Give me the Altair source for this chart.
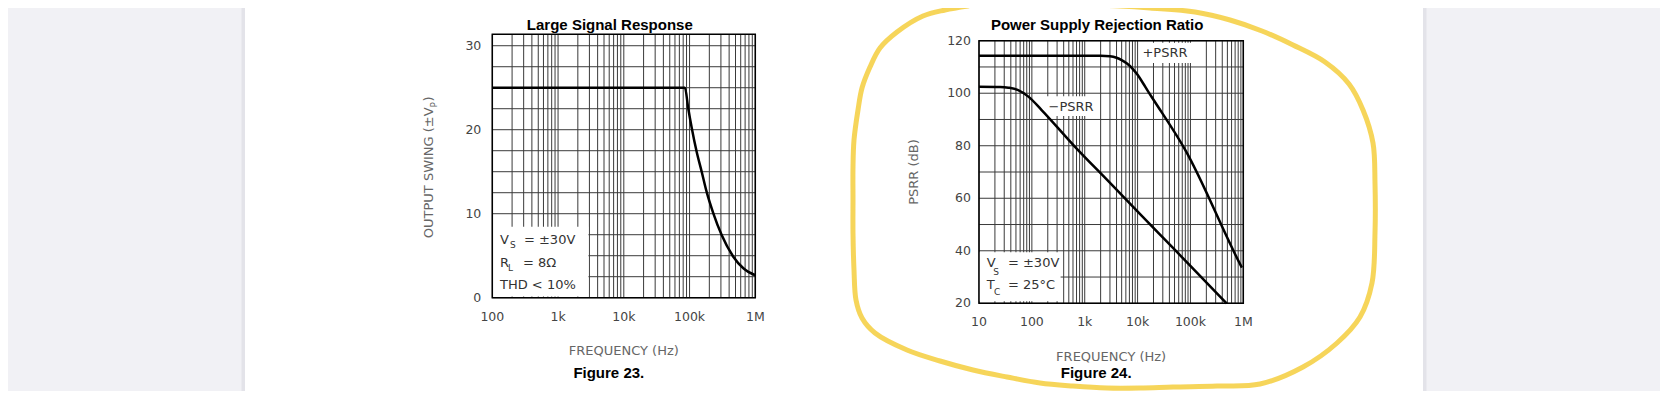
import math
import altair as alt
import pandas as pd

# ---------------- data ----------------
# Figure 23 - Large Signal Response
lsr_freq = [100, 85000, 95700, 108000, 128000, 153000, 182000, 230000, 308000, 463000, 658000, 1000000]
lsr_swing = [25.0, 25.0, 22.5, 20.2, 17.4, 15.0, 12.6, 10.05, 7.46, 4.88, 3.5, 2.67]

# Figure 24 - Power Supply Rejection Ratio
ppsrr_freq = [10, 2000, 3000, 4000, 5000, 6300, 8000, 10000, 12600, 15900, 20000, 78700, 865000, 940000]
ppsrr_db = [114.3, 114.3, 114.1, 113.5, 112.6, 111.3, 109.4, 107.0, 103.9, 100.6, 97.5, 78.6, 35.0, 33.6]
npsrr_freq = [10, 25, 36, 55, 86, 153, 655, 2800, 11900, 51000, 217000, 484000]
npsrr_db = [102.5, 102.4, 102.1, 101.2, 98.7, 93.6, 79.6, 66.5, 53.4, 40.3, 27.2, 20.0]

l_xticks = [100, 1000, 10000, 100000, 1000000]
l_xlabels = ["100", "1k", "10k", "100k", "1M"]
l_yticks = [0, 10, 20, 30]
l_ylabels = ["0", "10", "20", "30"]
r_xticks = [10, 100, 1000, 10000, 100000, 1000000]
r_xlabels = ["10", "100", "1k", "10k", "100k", "1M"]
r_yticks = [20, 40, 60, 80, 100, 120]
r_ylabels = ["20", "40", "60", "80", "100", "120"]

# hand-drawn highlight loop (traced, image pixels)
loop_x = [968, 945, 923, 897, 880, 870, 862, 858, 854, 853, 853, 853, 854, 856, 862, 875, 907, 940, 973,
          1007, 1040, 1073, 1107, 1140, 1173, 1217, 1260, 1303, 1337, 1360, 1372, 1375, 1375, 1373, 1363,
          1349, 1325, 1293, 1262, 1230, 1195, 1150, 1120, 1095]
loop_y = [6, 10, 16, 32, 48, 67, 88, 110, 140, 167, 200, 233, 270, 300, 318, 333, 350, 361, 370,
          377, 383, 386, 388, 388, 387, 386, 384, 367, 343, 317, 283, 233, 183, 143, 110,
          84, 62, 45, 31, 20, 12, 8, 6, 5]

# ---------------- styling ----------------
W, H = 1652, 383
OFF = 8
BG = "#f1f1f5"
GRID = "#3a3a3a"
LBL = "#444444"
TTL = "#666666"
ANN = "#333333"
YEL = "#f5d048"
SANS = "DejaVu Sans"
BOLD = "Liberation Sans"


def px(v):
    return v - OFF


XL = alt.Scale(type="log", domain=[100, 1e6], range=[px(492.3), px(755.3)], nice=False)
YL = alt.Scale(type="linear", domain=[0, 31.36], range=[px(297.7), px(34.3)], nice=False, zero=False)
XR = alt.Scale(type="log", domain=[10, 1e6], range=[px(979.0), px(1243.3)], nice=False)
YR = alt.Scale(type="linear", domain=[20, 120], range=[px(303.3), px(40.7)], nice=False, zero=False)
XI = alt.Scale(type="linear", domain=[OFF, W + OFF], range=[0, W], nice=False, zero=False)
YI = alt.Scale(type="linear", domain=[OFF, H + OFF], range=[0, H], nice=False, zero=False)


def X(f, s):
    return alt.X(f"{f}:Q", scale=s, axis=None)


def Y(f, s):
    return alt.Y(f"{f}:Q", scale=s, axis=None)


def panel(xs, ys, xmin, xmax, ymin, ymax, hvals, boxes, curves, xticks, xlabels, yticks, ylabels,
          title, fig, ann, center_labels, ytitle_parts, xlab_dy, ylab_dx, title_dy, freq_dy, fig_dy):
    decs = []
    d = xmin
    while d < xmax:
        decs += [m * d for m in range(1, 10)]
        d *= 10
    decs.append(xmax)
    vg = pd.DataFrame({"f": decs, "y0": ymin, "y1": ymax})
    hg = pd.DataFrame({"v": hvals, "x0": xmin, "x1": xmax})
    layers = []
    layers.append(alt.Chart(vg).mark_rule(color=GRID, strokeWidth=1).encode(
        x=X("f", xs), y=Y("y0", ys), y2="y1:Q"))
    layers.append(alt.Chart(hg).mark_rule(color=GRID, strokeWidth=1).encode(
        y=Y("v", ys), x=X("x0", xs), x2="x1:Q"))
    bx = pd.DataFrame(boxes, columns=["f0", "f1", "v0", "v1"])
    layers.append(alt.Chart(bx).mark_rect(color="white").encode(
        x=X("f0", xs), x2="f1:Q", y=Y("v0", ys), y2="v1:Q"))
    fr = pd.DataFrame({"f0": [xmin], "f1": [xmax], "v0": [ymin], "v1": [ymax]})
    layers.append(alt.Chart(fr).mark_rect(fillOpacity=0, stroke="black", strokeWidth=1.5).encode(
        x=X("f0", xs), x2="f1:Q", y=Y("v0", ys), y2="v1:Q"))
    layers.append(alt.Chart(curves).mark_line(color="black", strokeWidth=2.5, interpolate="monotone").encode(
        x=X("f", xs), y=Y("v", ys), detail="s:N"))
    # tick labels
    xt = pd.DataFrame({"f": xticks, "t": xlabels, "v": ymin})
    layers.append(alt.Chart(xt).mark_text(dy=xlab_dy, font=SANS, fontSize=12.5, color=LBL, baseline="middle").encode(
        x=X("f", xs), y=Y("v", ys), text="t:N"))
    yt = pd.DataFrame({"v": yticks, "t": ylabels, "f": xmin})
    layers.append(alt.Chart(yt).mark_text(dx=ylab_dx, align="right", baseline="middle", font=SANS, fontSize=12.5,
                                          color=LBL).encode(x=X("f", xs), y=Y("v", ys), text="t:N"))
    # in-plot annotations
    an = pd.DataFrame(ann, columns=["t", "f", "v", "s"])
    layers.append(alt.Chart(an).mark_text(align="left", baseline="middle", font=SANS, color=ANN).encode(
        x=X("f", xs), y=Y("v", ys), text="t:N", size=alt.Size("s:Q", scale=None, legend=None)))
    if center_labels:
        cl = pd.DataFrame(center_labels, columns=["t", "f", "v"])
        layers.append(alt.Chart(cl).mark_text(align="center", baseline="middle", font=SANS, fontSize=13,
                                              color=ANN).encode(x=X("f", xs), y=Y("v", ys), text="t:N"))
    # titles
    cf = 10 ** ((math.log10(xmin) + math.log10(xmax)) / 2)
    tt = pd.DataFrame({"t": [title], "f": [cf], "v": [ymax]})
    layers.append(alt.Chart(tt).mark_text(dx=-14, dy=title_dy, font=BOLD, fontWeight="bold", fontSize=15,
                                          color="black", baseline="middle").encode(
        x=X("f", xs), y=Y("v", ys), text="t:N"))
    ft = pd.DataFrame({"t": ["FREQUENCY (Hz)"], "f": [cf], "v": [ymin]})
    layers.append(alt.Chart(ft).mark_text(dy=freq_dy, font=SANS, fontSize=13, color=TTL, baseline="middle").encode(
        x=X("f", xs), y=Y("v", ys), text="t:N"))
    fg = pd.DataFrame({"t": [fig], "f": [cf], "v": [ymin]})
    layers.append(alt.Chart(fg).mark_text(dx=-15, dy=fig_dy, font=BOLD, fontWeight="bold", fontSize=15,
                                          color="black", baseline="middle").encode(
        x=X("f", xs), y=Y("v", ys), text="t:N"))
    for (t, f, v, s, al) in ytitle_parts:
        d1 = pd.DataFrame({"t": [t], "f": [f], "v": [v]})
        layers.append(alt.Chart(d1).mark_text(angle=270, align=al, baseline="middle", font=SANS, fontSize=s,
                                              color=TTL).encode(x=X("f", xs), y=Y("v", ys), text="t:N"))
    return alt.layer(*layers)


left_curves = pd.DataFrame({"f": lsr_freq, "v": lsr_swing, "s": "swing"})
left = panel(
    XL, YL, 100, 1e6, 0, 31.36,
    [i * 2.5 for i in range(13)],
    [(100, 2900, 0.15, 8.45)],
    left_curves, l_xticks, l_xlabels, l_yticks, l_ylabels,
    "Large Signal Response", "Figure 23.",
    [("V", 131, 6.87, 13), ("S", 186, 6.27, 9), ("= ±30V", 303, 6.87, 13),
     ("R", 131, 4.17, 13), ("L", 173, 3.54, 9), ("= 8Ω", 293, 4.17, 13),
     ("THD < 10%", 131, 1.51, 13)],
    None,
    [("OUTPUT SWING (±V", 11.0, 7.08, 13, "left"), ("P", 12.8, 22.98, 9, "center"),
     (")", 11.0, 23.65, 13, "center")],
    19, -11, -9.3, 53, 75,
)

right_curves = pd.concat([
    pd.DataFrame({"f": ppsrr_freq, "v": ppsrr_db, "s": "+PSRR"}),
    pd.DataFrame({"f": npsrr_freq, "v": npsrr_db, "s": "-PSRR"}),
])
right = panel(
    XR, YR, 10, 1e6, 20, 120,
    list(range(20, 121, 10)),
    [(12000, 150000, 111.5, 119.2), (165, 1450, 91.3, 98.8), (10, 350, 20.8, 39.4)],
    right_curves, r_xticks, r_xlabels, r_yticks, r_ylabels,
    "Power Supply Rejection Ratio", "Figure 24.",
    [("V", 14, 35.2, 13), ("S", 18.6, 32.0, 9), ("= ±30V", 35.3, 35.2, 13),
     ("T", 14, 27.0, 13), ("C", 19.3, 24.4, 9), ("= 25°C", 35.3, 27.0, 13)],
    [("+PSRR", 33000, 115.3), ("−PSRR", 551, 94.9)],
    [("PSRR (dB)", 0.59, 70, 13, "center")],
    18.5, -8, -15.7, 54, 70,
)

# page background and highlight loop (image pixel space)
page = pd.DataFrame({"x0": [245], "x1": [1423], "y0": [OFF], "y1": [H + OFF]})
shadow = pd.DataFrame({"x0": [241.5, 1423], "x1": [245, 1426.5], "y0": [OFF, OFF], "y1": [H + OFF, H + OFF]})
back = alt.layer(
    alt.Chart(shadow).mark_rect(color="#e3e3e9").encode(
        x=X("x0", XI), x2="x1:Q", y=Y("y0", YI), y2="y1:Q"),
    alt.Chart(page).mark_rect(color="white").encode(
        x=X("x0", XI), x2="x1:Q", y=Y("y0", YI), y2="y1:Q"),
)
loop = pd.DataFrame({"x": loop_x, "y": loop_y, "i": list(range(len(loop_x)))})
front = alt.Chart(loop).mark_line(color=YEL, strokeWidth=5, opacity=0.9, interpolate="catmull-rom",
                                  strokeCap="round").encode(
    x=X("x", XI), y=Y("y", YI), order="i:Q")

chart = alt.layer(back, left, right, front).resolve_scale(
    x="independent", y="independent"
).properties(
    width=W, height=H, background=BG, padding=0,
    autosize=alt.AutoSizeParams(type="none"),
).configure_view(stroke=None)

chart.save("out.html", embed_options={"renderer": "svg", "actions": False})
